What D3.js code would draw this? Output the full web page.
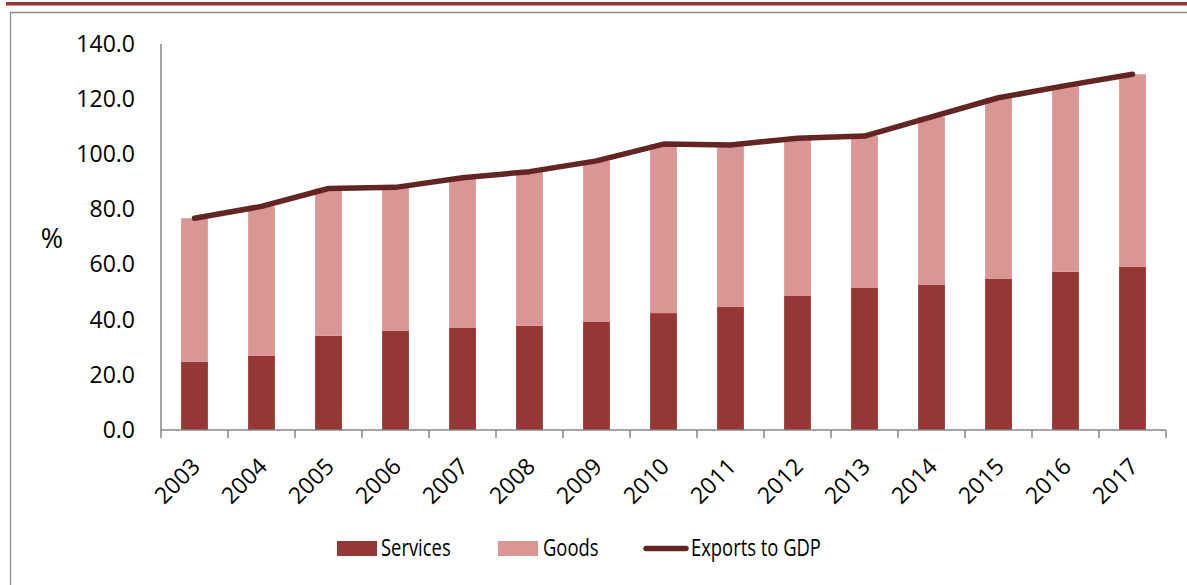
<!DOCTYPE html>
<html>
<head>
<meta charset="utf-8">
<script src="https://cdn.jsdelivr.net/npm/d3@7"></script>
<style>
  html, body { margin: 0; padding: 0; background: #fff; }
  svg { display: block; font-family: "Open Sans", "Noto Sans", sans-serif; }
</style>
</head>
<body>
<svg id="chart" width="1187" height="585"></svg>
<script>
// Exports as a share of GDP (%), split into services and goods
const years = ["2003","2004","2005","2006","2007","2008","2009","2010","2011","2012","2013","2014","2015","2016","2017"];
const services = [24.8, 27.0, 34.2, 35.9, 37.0, 37.8, 39.2, 42.4, 44.6, 48.6, 51.5, 52.6, 54.8, 57.4, 59.2];
const goods    = [52.0, 54.1, 53.4, 52.1, 54.5, 55.9, 58.4, 61.3, 58.8, 57.2, 55.1, 61.0, 65.7, 67.5, 69.8];
const exportsToGDP = [76.8, 81.1, 87.6, 88.0, 91.5, 93.7, 97.6, 103.7, 103.4, 105.8, 106.6, 113.6, 120.5, 124.9, 129.0];
const yTicks = [0, 20, 40, 60, 80, 100, 120, 140];
const seriesNames = ["Services", "Goods", "Exports to GDP"];

const colors = { services: "#953735", goods: "#D99694", line: "#632523", axis: "#868686" };
const fontSize = 23;

const svg = d3.select("#chart");

// header rule and frame
svg.append("rect").attr("x", 6).attr("y", 2).attr("width", 1181).attr("height", 3.5).attr("fill", "#953735");
svg.append("path").attr("d", "M10.5,600 V12.5 H1200").attr("fill", "none").attr("stroke", "#8c8c8c").attr("stroke-width", 1.3);

const x0 = 161, x1 = 1166, yBase = 430, yTop = 44;

const x = d3.scaleBand().domain(years).range([x0, x1]).paddingInner(0.6).paddingOuter(0.3);
const xc = d => x(d) + x.bandwidth() / 2;
const y = d3.scaleLinear().domain([0, 140]).range([yBase, yTop]);

const rows = years.map((yr, i) => ({ year: yr, services: services[i], goods: goods[i] }));
const stacked = d3.stack().keys(["services", "goods"])(rows);

const g = svg.append("g");
g.selectAll("g.layer").data(stacked).join("g")
  .attr("class", "layer")
  .attr("fill", d => colors[d.key])
  .selectAll("rect").data(d => d).join("rect")
  .attr("x", d => x(d.data.year))
  .attr("width", x.bandwidth())
  .attr("y", d => y(d[1]))
  .attr("height", d => y(d[0]) - y(d[1]));

// y axis (no tick marks)
const yAxis = svg.append("g").attr("transform", `translate(${x0},0)`)
  .call(d3.axisLeft(y).tickValues(yTicks).tickFormat(d3.format(".1f")).tickSize(0).tickPadding(26));
yAxis.select(".domain").attr("stroke", colors.axis).attr("stroke-width", 1.5).attr("d", `M0,${yTop}V${yBase}`);
yAxis.selectAll("text").attr("font-size", fontSize).attr("fill", "#000").attr("font-family", "Open Sans");

// x axis with ticks at category boundaries
const xb = d3.scaleLinear().domain([0, years.length]).range([x0, x1]);
const xAxisG = svg.append("g").attr("transform", `translate(0,${yBase})`);
xAxisG.append("line").attr("x1", x0).attr("x2", x1).attr("stroke", colors.axis).attr("stroke-width", 1.5);
xAxisG.selectAll("line.tick").data(d3.range(years.length + 1)).join("line")
  .attr("class", "tick")
  .attr("x1", d => xb(d)).attr("x2", d => xb(d))
  .attr("y1", 0).attr("y2", 8)
  .attr("stroke", colors.axis).attr("stroke-width", 1.5);
xAxisG.selectAll("text").data(years).join("text")
  .attr("transform", d => `translate(${xc(d) + 7},${38}) rotate(-45)`)
  .attr("text-anchor", "end")
  .attr("font-size", fontSize)
  .attr("fill", "#000")
  .text(d => d);

// exports-to-GDP line
const line = d3.line().x((d, i) => xc(years[i])).y(d => y(d));
svg.append("path").datum(exportsToGDP)
  .attr("d", line)
  .attr("fill", "none")
  .attr("stroke", colors.line)
  .attr("stroke-width", 5.5)
  .attr("stroke-linecap", "round")
  .attr("stroke-linejoin", "round");

// y axis unit label
svg.append("text").attr("x", 52).attr("y", 248).attr("text-anchor", "middle")
  .attr("font-size", 27).attr("fill", "#000").text("%");

// legend
const legend = svg.append("g");
const legendItems = [
  { name: seriesNames[0], type: "rect", color: colors.services, sx: 337, tx: 381 },
  { name: seriesNames[1], type: "rect", color: colors.goods, sx: 498, tx: 543 },
  { name: seriesNames[2], type: "line", color: colors.line, sx: 644, tx: 691 }
];
legendItems.forEach(it => {
  if (it.type === "rect") {
    legend.append("rect").attr("x", it.sx).attr("y", 541).attr("width", 40).attr("height", 15).attr("fill", it.color);
  } else {
    legend.append("line").attr("x1", it.sx + 2).attr("x2", it.sx + 42).attr("y1", 548.5).attr("y2", 548.5)
      .attr("stroke", it.color).attr("stroke-width", 5.5).attr("stroke-linecap", "round");
  }
  legend.append("text")
    .attr("transform", `translate(${it.tx},556) scale(0.8,1)`)
    .attr("font-size", fontSize).attr("fill", "#000").text(it.name);
});
</script>
</body>
</html>
